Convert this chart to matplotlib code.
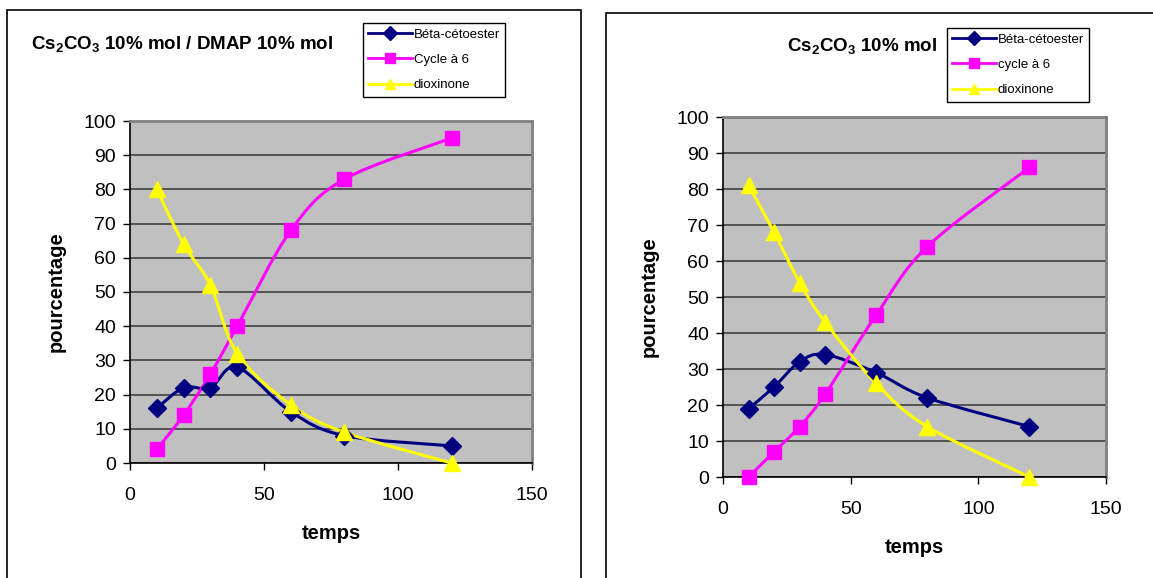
import numpy as np
import matplotlib.pyplot as plt
from matplotlib.path import Path
from matplotlib.patches import PathPatch, Rectangle
from matplotlib.lines import Line2D

plt.rcParams['font.family'] = ['Liberation Sans', 'DejaVu Sans']

# Data
temps = [10, 20, 30, 40, 60, 80, 120]

left_beta = [16, 22, 22, 28, 15, 8, 5]
left_cycle = [4, 14, 26, 40, 68, 83, 95]
left_diox = [80, 64, 52, 32, 17, 9, 0]
left_labels = ["Béta-cétoester", "Cycle à 6", "dioxinone"]

right_beta = [19, 25, 32, 34, 29, 22, 14]
right_cycle = [0, 7, 14, 23, 45, 64, 86]
right_diox = [81, 68, 54, 43, 26, 14, 0]
right_labels = ["Béta-cétoester", "cycle à 6", "dioxinone"]

colors = ["#000080", "#FF00FF", "#FFFF00"]
markers = ["D", "s", "^"]
msizes = [9, 10, 11]


def smooth_path(ax, x, y, color):
    # Excel-like smoothed line: cubic Bezier through the points
    x = np.asarray(x, float)
    y = np.asarray(y, float)
    verts = [(x[0], y[0])]
    codes = [Path.MOVETO]
    n = len(x)
    for i in range(n - 1):
        i0 = max(i - 1, 0)
        i3 = min(i + 2, n - 1)
        c1 = (x[i] + (x[i + 1] - x[i0]) / 6, y[i] + (y[i + 1] - y[i0]) / 6)
        c2 = (x[i + 1] - (x[i3] - x[i]) / 6, y[i + 1] - (y[i3] - y[i]) / 6)
        verts += [c1, c2, (x[i + 1], y[i + 1])]
        codes += [Path.CURVE4] * 3
    ax.add_patch(PathPatch(Path(verts, codes), fill=False, edgecolor=color,
                           lw=2.2, zorder=3, clip_on=False))


def draw_chart(ax, series, labels, title, title_xy, title_ha, leg_bbox):
    ax.set_facecolor("#C0C0C0")
    for s, c, m, ms in zip(series, colors, markers, msizes):
        smooth_path(ax, temps, s, c)
        ax.plot(temps, s, linestyle="none", marker=m, color=c, ms=ms,
                zorder=4, clip_on=False)
    ax.set_xlim(0, 150)
    ax.set_ylim(0, 100)
    ax.set_xticks([0, 50, 100, 150])
    ax.set_yticks(range(0, 101, 10))
    ax.grid(axis="y", color="#404040", lw=1.2)
    ax.set_axisbelow(True)
    ax.tick_params(labelsize=14, direction="out", length=5, width=1, pad=5)
    ax.tick_params(axis="x", pad=12)
    for side in ["top", "right"]:
        ax.spines[side].set_color("#808080")
        ax.spines[side].set_linewidth(2)
    for side in ["left", "bottom"]:
        ax.spines[side].set_color("black")
        ax.spines[side].set_linewidth(1.2)
    ax.set_xlabel("temps", fontsize=14.5, fontweight="bold", labelpad=15)
    ax.set_ylabel("pourcentage", fontsize=14.5, fontweight="bold", labelpad=13)
    fig.text(title_xy[0], title_xy[1], title, fontsize=13.5, fontweight="bold",
             ha=title_ha, va="center")
    handles = [Line2D([], [], color=c, marker=m, ms=7.5, lw=2)
               for c, m in zip(colors, markers)]
    leg = fig.legend(handles, labels, loc="upper left", bbox_to_anchor=leg_bbox,
                     bbox_transform=fig.transFigure, fontsize=9.5,
                     fancybox=False, edgecolor="black", framealpha=1,
                     handlelength=3.3, handletextpad=0.15, labelspacing=1.0,
                     borderpad=0.4, borderaxespad=0)
    leg.get_frame().set_linewidth(1)


W, H = 1153, 578
fig = plt.figure(figsize=(W / 100, H / 100), dpi=100)

# chart frames
fig.patches.append(Rectangle((7 / W, -0.1), 574 / W, 1 - 10 / H + 0.1,
                             transform=fig.transFigure, fill=False,
                             edgecolor="black", lw=1.2))
fig.patches.append(Rectangle((606 / W, -0.1), 0.6, 1 - 13 / H + 0.1,
                             transform=fig.transFigure, fill=False,
                             edgecolor="black", lw=1.2))

ax1 = fig.add_axes([130 / W, 1 - 463 / H, 402 / W, 342 / H])
ax2 = fig.add_axes([723 / W, 1 - 477 / H, 383 / W, 360 / H])

draw_chart(ax1, [left_beta, left_cycle, left_diox], left_labels,
           "Cs$_{\\mathregular{2}}$CO$_{\\mathregular{3}}$ 10% mol / DMAP 10% mol",
           (31 / W, 1 - 45 / H), "left", (363 / W, 1 - 23 / H))
draw_chart(ax2, [right_beta, right_cycle, right_diox], right_labels,
           "Cs$_{\\mathregular{2}}$CO$_{\\mathregular{3}}$ 10% mol",
           (937 / W, 1 - 47 / H), "right", (947 / W, 1 - 28 / H))

fig.savefig("out.png", dpi=100)
